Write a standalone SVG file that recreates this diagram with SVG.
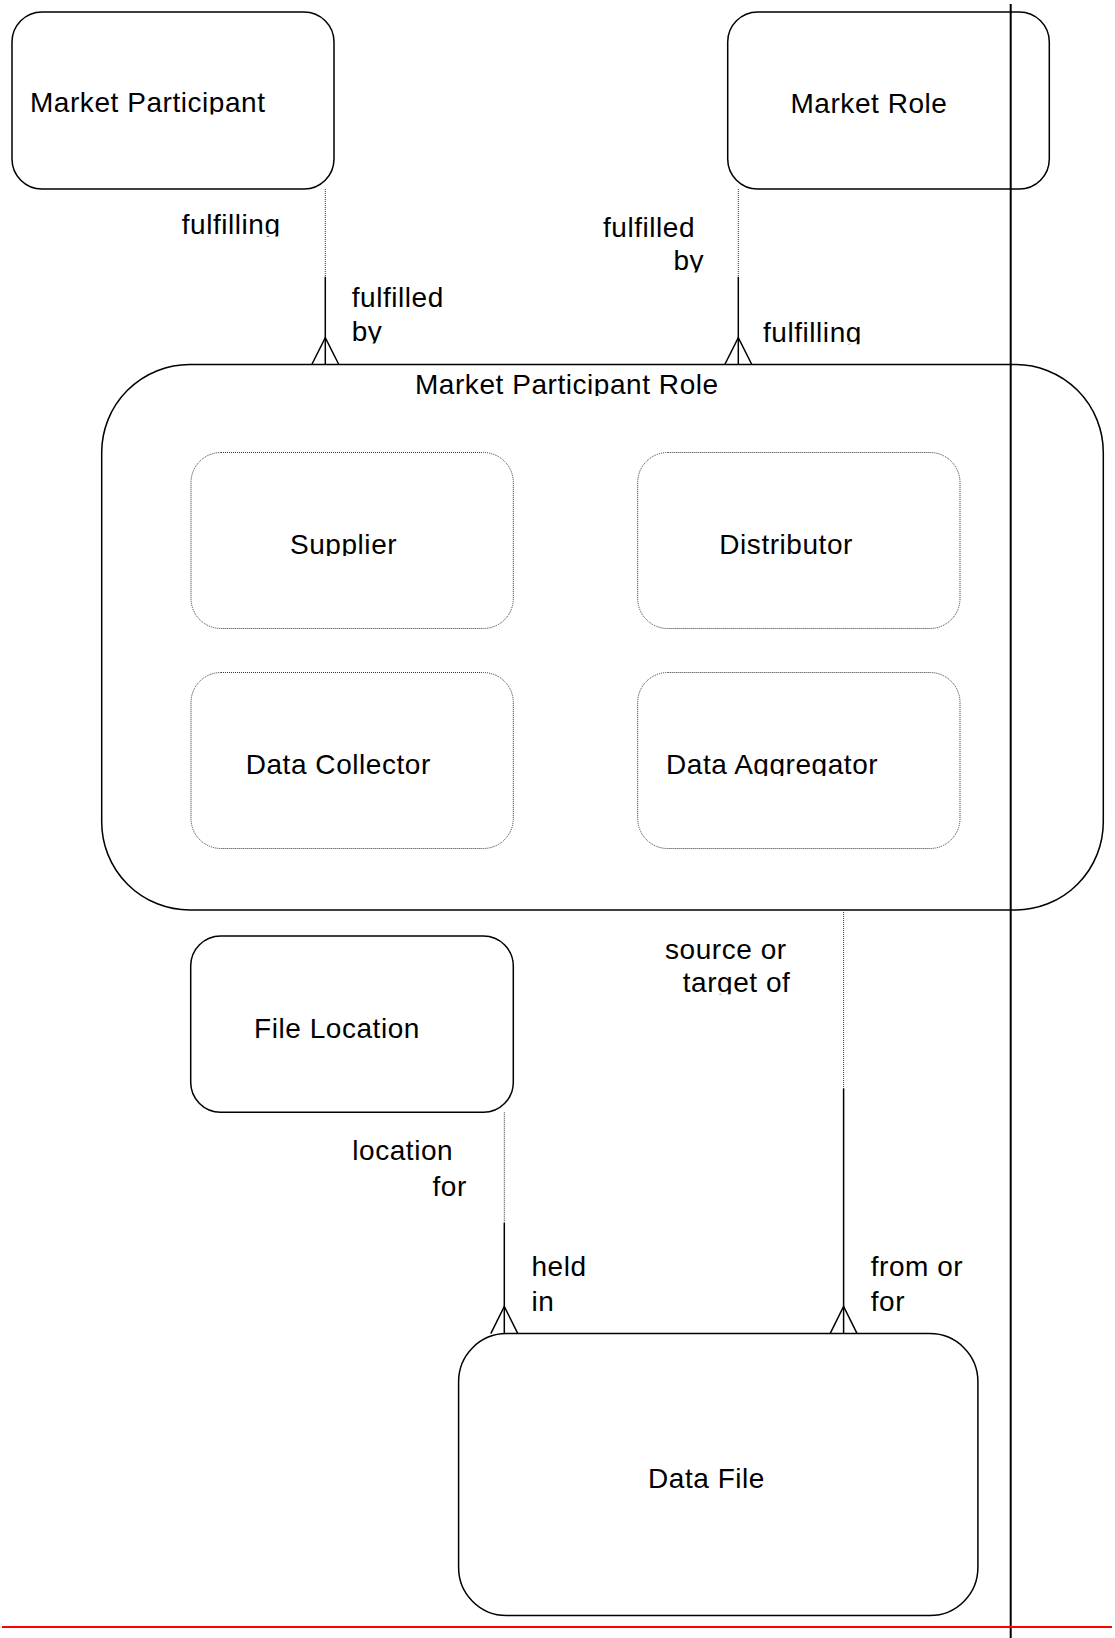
<svg xmlns="http://www.w3.org/2000/svg" width="1115" height="1638" viewBox="0 0 1115 1638">
  <style>
    .box { fill: #ffffff; stroke: #000000; stroke-width: 1.5; }
    .sub { fill: #ffffff; stroke: #333333; stroke-width: 1; stroke-dasharray: 1 1; }
    .t { font-family: "Liberation Sans", Arial, sans-serif; font-size: 28px; letter-spacing: 0.55px; fill: #000000; clip-path: url(#cut); }
    .dot { stroke: #333333; stroke-width: 1; stroke-dasharray: 1 1; fill: none; }
    .sol { stroke: #000000; stroke-width: 1.5; fill: none; }
  </style>
  <defs>
    <clipPath id="cut" clipPathUnits="objectBoundingBox">
      <rect x="-0.1" y="-0.2" width="1.2" height="1.088"/>
    </clipPath>
  </defs>
  <rect x="0" y="0" width="1115" height="1638" fill="#ffffff"/>

  <g id="market-participant">
    <rect class="box" x="12" y="12" width="322" height="177" rx="30"/>
    <text class="t" x="30" y="112">Market Participant</text>
  </g>
  <g id="market-role">
    <rect class="box" x="727.7" y="12" width="321.6" height="177" rx="30"/>
    <text class="t" x="790.5" y="112.5">Market Role</text>
  </g>
  <g id="market-participant-role">
    <rect class="box" x="101.7" y="364.5" width="1001.6" height="545.5" rx="88"/>
    <text class="t" x="415" y="393.5">Market Participant Role</text>
  </g>
  <g id="supplier">
    <rect class="sub" x="191" y="452.5" width="322.3" height="176" rx="30"/>
    <text class="t" x="290" y="553.5">Supplier</text>
  </g>
  <g id="distributor">
    <rect class="sub" x="637.7" y="452.5" width="322.3" height="176" rx="30"/>
    <text class="t" x="719.3" y="554">Distributor</text>
  </g>
  <g id="data-collector">
    <rect class="sub" x="191" y="672.5" width="322.3" height="176" rx="30"/>
    <text class="t" x="245.7" y="774">Data Collector</text>
  </g>
  <g id="data-aggregator">
    <rect class="sub" x="637.7" y="672.5" width="322.3" height="176" rx="30"/>
    <text class="t" x="666" y="773.5">Data Aggregator</text>
  </g>
  <g id="file-location">
    <rect class="box" x="190.7" y="936" width="322.6" height="176.3" rx="30"/>
    <text class="t" x="254" y="1037.5">File Location</text>
  </g>
  <g id="data-file">
    <rect class="box" x="458.6" y="1333.6" width="519.3" height="282" rx="48"/>
    <text class="t" x="648" y="1488">Data File</text>
  </g>

  <g id="connectors">
    <!-- Market Participant -> Market Participant Role -->
    <line class="dot" x1="325.3" y1="189" x2="325.3" y2="276.7"/>
    <line class="sol" x1="325.3" y1="276.7" x2="325.3" y2="364.5"/>
    <polyline class="sol" points="311.8,364.5 325.3,337.7 338.8,364.5"/>
    <text class="t" x="181.7" y="234">fulfilling</text>
    <text class="t" x="351.7" y="307">fulfilled</text>
    <text class="t" x="351.7" y="341">by</text>

    <!-- Market Role -> Market Participant Role -->
    <line class="dot" x1="738.3" y1="189" x2="738.3" y2="276.7"/>
    <line class="sol" x1="738.3" y1="276.7" x2="738.3" y2="364.5"/>
    <polyline class="sol" points="724.8,364.5 738.3,337.7 751.8,364.5"/>
    <text class="t" x="603" y="236.7">fulfilled</text>
    <text class="t" x="673.5" y="270">by</text>
    <text class="t" x="763" y="341.7">fulfilling</text>

    <!-- File Location -> Data File -->
    <line class="dot" x1="504.3" y1="1112.3" x2="504.3" y2="1222.7"/>
    <line class="sol" x1="504.3" y1="1222.7" x2="504.3" y2="1333.6"/>
    <polyline class="sol" points="490.8,1333.6 504.3,1306.5 517.8,1333.6"/>
    <text class="t" x="352.3" y="1160">location</text>
    <text class="t" x="432.5" y="1196">for</text>
    <text class="t" x="531.4" y="1275.7">held</text>
    <text class="t" x="531.4" y="1311.4">in</text>

    <!-- Market Participant Role -> Data File -->
    <line class="dot" x1="843.6" y1="910" x2="843.6" y2="1088.3"/>
    <line class="sol" x1="843.6" y1="1088.3" x2="843.6" y2="1333.6"/>
    <polyline class="sol" points="830.1,1333.6 843.6,1306.5 857.1,1333.6"/>
    <text class="t" x="665" y="959.3">source or</text>
    <text class="t" x="682.7" y="991.7">target of</text>
    <text class="t" x="870.7" y="1275.7">from or</text>
    <text class="t" x="870.7" y="1311.4">for</text>
  </g>

  <line x1="1010.7" y1="4" x2="1010.7" y2="1638" stroke="#000000" stroke-width="2"/>
  <line x1="2" y1="1627" x2="1112" y2="1627" stroke="#ff0000" stroke-width="2"/>
</svg>
